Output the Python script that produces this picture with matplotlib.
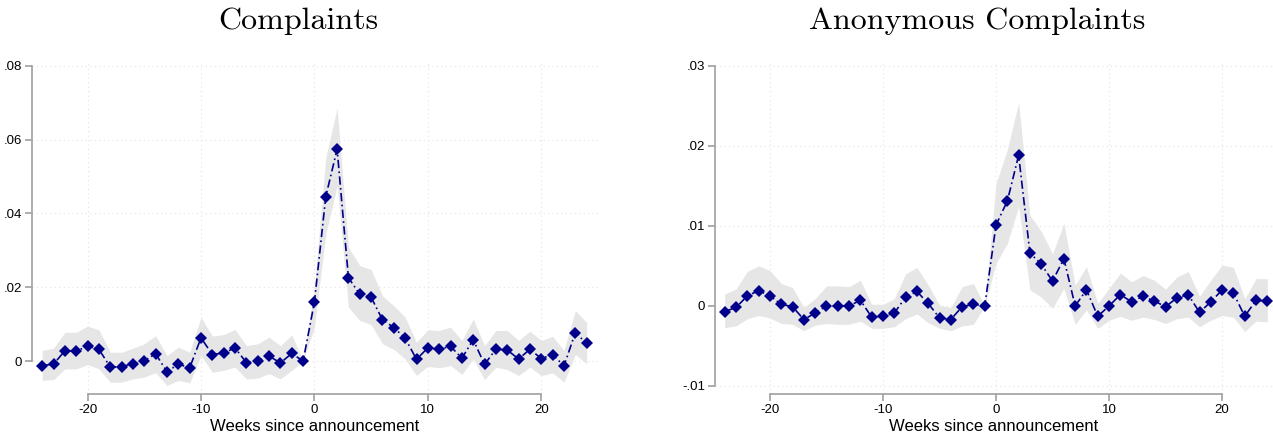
import matplotlib.pyplot as plt
import numpy as np

weeks = np.arange(-24, 25)

# Complaints: point estimates and 95% band
comp_coef = [-0.0012, -0.0008, 0.0028, 0.0027, 0.0041, 0.0032, -0.0016, -0.0015,
             -0.0007, 0.0001, 0.0020, -0.0029, -0.0008, -0.0018, 0.0063, 0.0018,
             0.0022, 0.0036, -0.0004, 0.0000, 0.0014, -0.0005, 0.0021, 0.0000,
             0.0160, 0.0446, 0.0574, 0.0226, 0.0181, 0.0173, 0.0112, 0.0091,
             0.0062, 0.0005, 0.0036, 0.0032, 0.0040, 0.0008, 0.0058, -0.0009,
             0.0033, 0.0030, 0.0006, 0.0032, 0.0007, 0.0018, -0.0013, 0.0077, 0.0048]
comp_hi = [0.0029, 0.0035, 0.0078, 0.0078, 0.0095, 0.0085, 0.0024, 0.0024,
           0.0035, 0.0047, 0.0069, 0.0015, 0.0038, 0.0024, 0.0119, 0.0068,
           0.0072, 0.0086, 0.0042, 0.0047, 0.0065, 0.0042, 0.0071, 0.0000,
           0.0200, 0.0551, 0.0686, 0.0308, 0.0259, 0.0248, 0.0177, 0.0150,
           0.0119, 0.0051, 0.0085, 0.0083, 0.0092, 0.0056, 0.0114, 0.0042,
           0.0083, 0.0083, 0.0056, 0.0081, 0.0056, 0.0067, 0.0029, 0.0137, 0.0105]
comp_lo = [-0.0052, -0.0050, -0.0021, -0.0021, -0.0009, -0.0021, -0.0057, -0.0057,
           -0.0048, -0.0043, -0.0031, -0.0066, -0.0052, -0.0059, 0.0015, -0.0030,
           -0.0025, -0.0016, -0.0048, -0.0046, -0.0034, -0.0048, -0.0025, 0.0000,
           0.0092, 0.0344, 0.0475, 0.0146, 0.0110, 0.0099, 0.0047, 0.0032,
           0.0006, -0.0039, -0.0014, -0.0018, -0.0012, -0.0036, 0.0006, -0.0050,
           -0.0016, -0.0023, -0.0039, -0.0016, -0.0039, -0.0032, -0.0057, 0.0018, -0.0007]

# Anonymous complaints
anon_coef = [-0.0007, -0.0002, 0.00125, 0.0019, 0.00125, 0.0002, -0.0001, -0.0017,
             -0.0009, 0.0000, 0.0000, 0.0000, 0.0007, -0.0014, -0.0013, -0.0009,
             0.0011, 0.0018, 0.0003, -0.0015, -0.0017, -0.0001, 0.0002, 0.0000,
             0.0101, 0.0131, 0.0188, 0.0066, 0.0052, 0.0031, 0.0059, 0.0000,
             0.0020, -0.0013, 0.0000, 0.0014, 0.0005, 0.0012, 0.0006, -0.0001,
             0.0010, 0.0014, -0.0008, 0.0005, 0.0020, 0.0016, -0.0013, 0.0007, 0.0006]
anon_hi = [0.0015, 0.0021, 0.0043, 0.0050, 0.0044, 0.0028, 0.0023, -0.0002,
           0.0009, 0.0025, 0.0025, 0.0024, 0.0032, 0.0002, 0.0002, 0.0009,
           0.0040, 0.0048, 0.0026, 0.0001, -0.0002, 0.0024, 0.0028, 0.0000,
           0.0153, 0.0195, 0.0254, 0.0113, 0.0093, 0.0065, 0.0103, 0.0026,
           0.0049, 0.0003, 0.0022, 0.0041, 0.0030, 0.0038, 0.0032, 0.0021,
           0.0036, 0.0043, 0.0012, 0.0032, 0.0051, 0.0048, 0.0009, 0.0034, 0.0034]
anon_lo = [-0.0027, -0.0025, -0.0016, -0.0012, -0.0015, -0.0022, -0.0023, -0.0031,
           -0.0024, -0.0022, -0.0023, -0.0023, -0.0019, -0.0028, -0.0028, -0.0026,
           -0.0016, -0.0010, -0.0021, -0.0028, -0.0031, -0.0025, -0.0023, 0.0000,
           0.0053, 0.0078, 0.0124, 0.0020, 0.0011, -0.0003, 0.0022, -0.0023,
           -0.0005, -0.0028, -0.0018, -0.0013, -0.0018, -0.0014, -0.0017, -0.0022,
           -0.0016, -0.0014, -0.0026, -0.0018, -0.0012, -0.0014, -0.0032, -0.0019, -0.0020]

x_ticks = [-20, -10, 0, 10, 20]
comp_yticks = [0, 0.02, 0.04, 0.06, 0.08]
comp_ylabels = ["0", ".02", ".04", ".06", ".08"]
anon_yticks = [-0.01, 0, 0.01, 0.02, 0.03]
anon_ylabels = ["-.01", "0", ".01", ".02", ".03"]

plt.rcParams['font.family'] = ['Liberation Sans', 'DejaVu Sans']

fig = plt.figure(figsize=(12.73, 4.4), dpi=100)
ax1 = fig.add_axes([32 / 1273, 46 / 440, 566 / 1273, 330 / 440])
ax2 = fig.add_axes([715 / 1273, 46 / 440, 558 / 1273, 330 / 440])

navy = '#00008B'
spine_col = '#A0A0A0'


def event_plot(ax, coef, lo, hi, yticks, ylabels, ylim, xlim):
    ax.fill_between(weeks, lo, hi, color='#E6E6E6', linewidth=0, zorder=1)
    ax.plot(weeks, coef, color=navy, linestyle=(0, (5, 2, 1, 2)), linewidth=1.2,
            marker='D', markersize=6.5, markeredgewidth=0, zorder=3)
    ax.set_xlim(*xlim)
    ax.set_ylim(*ylim)
    ax.set_xticks(x_ticks)
    ax.set_xticklabels([str(t) for t in x_ticks], fontsize=9.5)
    ax.set_yticks(yticks)
    ax.set_yticklabels(ylabels, fontsize=9.5)
    ax.grid(True, linestyle=(0, (1, 3)), color='#E2E2E2', linewidth=0.8, zorder=0)
    for side in ['top', 'right']:
        ax.spines[side].set_visible(False)
    ax.spines['left'].set_bounds(yticks[0], yticks[-1])
    ax.spines['bottom'].set_bounds(x_ticks[0], x_ticks[-1])
    for side in ['left', 'bottom']:
        ax.spines[side].set_color(spine_col)
        ax.spines[side].set_linewidth(1.2)
    ax.tick_params(axis='both', color=spine_col, length=5, width=1.2,
                   labelcolor='black', pad=2)
    ax.set_xlabel('Weeks since announcement', fontsize=12, labelpad=2)
    ax.set_axisbelow(True)


event_plot(ax1, comp_coef, comp_lo, comp_hi, comp_yticks, comp_ylabels,
           (-0.0089, 0.0805), (-24.9, 25.0))
event_plot(ax2, anon_coef, anon_lo, anon_hi, anon_yticks, anon_ylabels,
           (-0.0110, 0.0302), (-24.86, 24.5))

fig.text(298 / 1273, 1 - 21 / 440, 'Complaints', family='cmr10', fontsize=23,
         ha='center', va='center')
fig.text(977 / 1273, 1 - 21 / 440, 'Anonymous Complaints', family='cmr10',
         fontsize=23, ha='center', va='center')

plt.savefig('out.png', dpi=100)
